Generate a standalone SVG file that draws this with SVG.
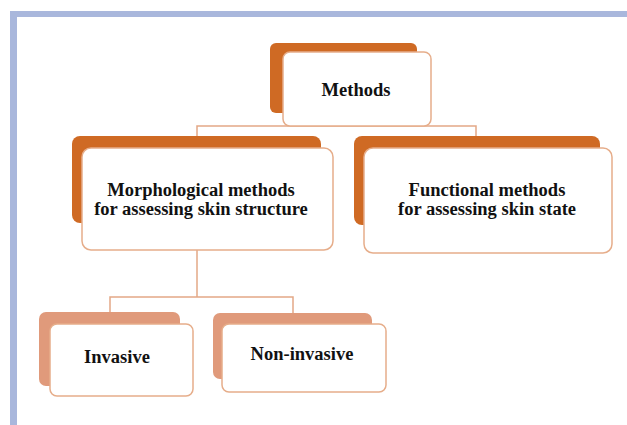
<svg xmlns="http://www.w3.org/2000/svg" width="627" height="425" viewBox="0 0 627 425">
<style>
.frame{fill:#a9b7dc}
.back1{fill:#cf6a24}
.back2{fill:#e09a7b}
.front{fill:#ffffff;stroke:#e6ad8a;stroke-width:1.5}
.conn{fill:none;stroke:#e3a886;stroke-width:1.5}
text{font-family:"Liberation Serif","Times New Roman",serif;font-weight:bold;font-size:18.5px;fill:#111;text-anchor:middle}
</style>
<rect x="0" y="0" width="627" height="425" fill="#ffffff"/>
<rect class="frame" x="10" y="11" width="617" height="6"/>
<rect class="frame" x="10" y="11" width="7" height="414"/>
<g id="connectors">
<path class="conn" d="M197,138 V126 H476 V138"/>
<path class="conn" d="M197,250 V297"/>
<path class="conn" d="M110,313 V297 H293 V313"/>
</g>
<g id="methods">
<rect class="back1" x="270" y="43" width="147" height="70" rx="6"/>
<rect class="front" x="283" y="52" width="148" height="74" rx="7"/>
<text x="356" y="96">Methods</text>
</g>
<g id="morphological">
<rect class="back1" x="72" y="136" width="249" height="87" rx="8"/>
<rect class="front" x="82" y="148" width="251" height="102" rx="9"/>
<text x="201" y="196">Morphological methods</text>
<text x="201" y="215">for assessing skin structure</text>
</g>
<g id="functional">
<rect class="back1" x="354" y="136" width="246" height="89" rx="8"/>
<rect class="front" x="364" y="148" width="248" height="105" rx="9"/>
<text x="487" y="196">Functional methods</text>
<text x="487" y="215">for assessing skin state</text>
</g>
<g id="invasive">
<rect class="back2" x="39" y="312" width="141" height="74" rx="7"/>
<rect class="front" x="50" y="324" width="143" height="72" rx="7"/>
<text x="117" y="363">Invasive</text>
</g>
<g id="noninvasive">
<rect class="back2" x="213" y="313" width="159" height="66" rx="7"/>
<rect class="front" x="222" y="324" width="164" height="68" rx="7"/>
<text x="302" y="360">Non-invasive</text>
</g>
</svg>
